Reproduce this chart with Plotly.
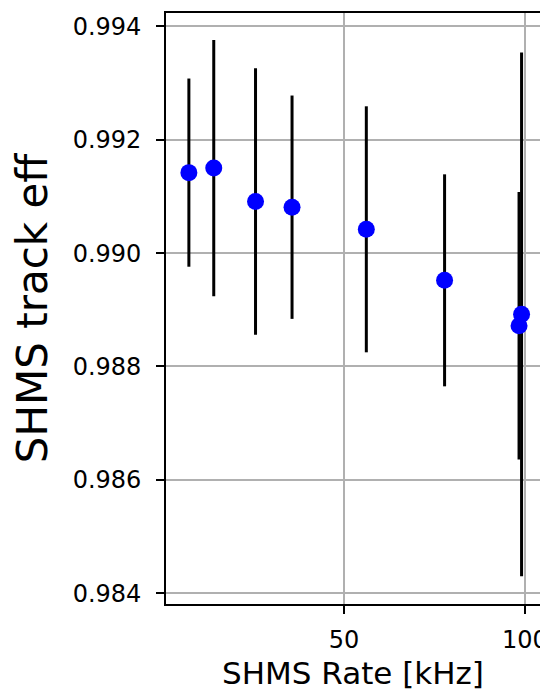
import plotly.graph_objects as go

# Data
rate_khz = [7.06, 13.94, 25.5, 35.6, 56.15, 77.8, 98.4, 99.1]
track_eff = [0.99142, 0.99150, 0.99091, 0.99081, 0.99042, 0.98952, 0.98872, 0.98892]
track_eff_err = [0.00166, 0.00226, 0.00235, 0.00197, 0.00217, 0.00187, 0.00236, 0.00462]

x_ticks = [50, 100]
y_ticks = [0.984, 0.986, 0.988, 0.990, 0.992, 0.994]

FONT = "DejaVu Sans"

fig = go.Figure()
fig.add_trace(go.Scatter(
    x=rate_khz,
    y=track_eff,
    mode="markers",
    marker=dict(color="#0000ff", size=17, line=dict(width=0)),
    error_y=dict(type="data", array=track_eff_err, visible=True,
                 color="black", thickness=3, width=0),
    showlegend=False,
))

fig.update_layout(
    width=540, height=693,
    margin=dict(l=166, r=0, t=13, b=89, autoexpand=False),
    paper_bgcolor="white", plot_bgcolor="white",
    font=dict(family=FONT, color="black"),
)

fig.update_xaxes(
    range=[0.73, 104.2],
    tickmode="array", tickvals=x_ticks, ticktext=[str(v) for v in x_ticks],
    showgrid=True, gridcolor="#b0b0b0", gridwidth=1.6,
    zeroline=False,
    showline=True, linecolor="black", linewidth=1.6, mirror=True,
    ticks="outside", ticklen=8, tickwidth=1.6, tickcolor="black",
    tickfont=dict(size=24, family=FONT, color="black"),
    ticklabelstandoff=5,
    ticklabeloverflow="allow",
    automargin=False,
    title=dict(text="SHMS Rate [kHz]", font=dict(size=31, family=FONT, color="black"), standoff=10),
)

fig.update_yaxes(
    range=[0.98381, 0.994236],
    tickmode="array", tickvals=y_ticks, ticktext=[f"{v:.3f}" for v in y_ticks],
    showgrid=True, gridcolor="#b0b0b0", gridwidth=1.6,
    zeroline=False,
    showline=True, linecolor="black", linewidth=1.6, mirror=False,
    ticks="outside", ticklen=8, tickwidth=1.6, tickcolor="black",
    tickfont=dict(size=24, family=FONT, color="black"),
    ticklabelstandoff=10,
    automargin=False,
    title=dict(text="SHMS track eff", font=dict(size=42, family=FONT, color="black"), standoff=12),
)

fig.write_html(
    "out.html",
    config={"displayModeBar": False},
    post_script="document.body.style.margin='0';document.body.style.overflow='hidden';",
)
